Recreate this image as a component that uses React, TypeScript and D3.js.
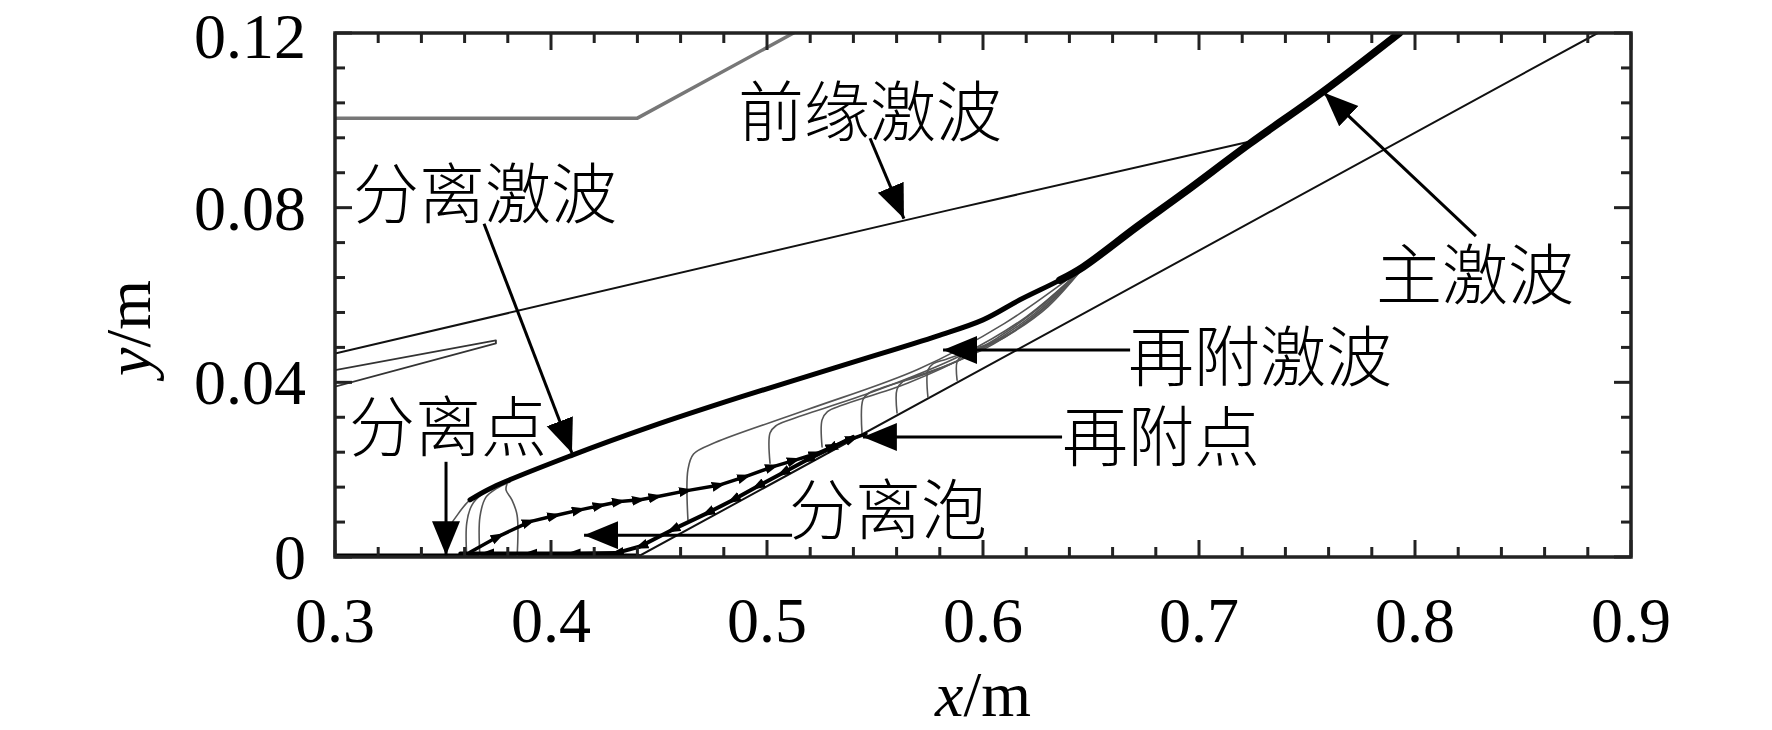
import * as d3 from "d3"

type Pt = [number, number]

// axis ticks
const xMajor = [0.3, 0.4, 0.5, 0.6, 0.7, 0.8, 0.9]
const xTickLabels = ["0.3", "0.4", "0.5", "0.6", "0.7", "0.8", "0.9"]
const yMajor = [0, 0.04, 0.08, 0.12]
const yTickLabels = ["0", "0.04", "0.08", "0.12"]

// geometry (x/m, y/m)
const upperWall: Pt[] = [[0.3, 0.1005], [0.44, 0.1005], [0.5123, 0.12]]
const floorWall: Pt[] = [[0.3, 0], [0.44, 0]]
const rampWall: Pt[] = [[0.44, 0], [0.8846, 0.12]]

// shocks
const leadingShock: Pt[] = [[0.3, 0.0466], [0.5847, 0.0795], [0.7267, 0.0955]]
const sliver: Pt[] = [[0.3, 0.0428], [0.3745, 0.0496], [0.3745, 0.0489], [0.3, 0.039]]
const separationShock: Pt[] = [
  [0.3625, 0.0131], [0.3731, 0.016], [0.4102, 0.0234], [0.4458, 0.0298], [0.4875, 0.0366],
  [0.5384, 0.0444], [0.5787, 0.0506], [0.6, 0.0543], [0.6171, 0.0589], [0.6356, 0.0634], [0.6463, 0.0664],
]
const mainShock: Pt[] = [
  [0.6356, 0.0634], [0.6463, 0.0664], [0.6712, 0.0756], [0.6927, 0.0833],
  [0.7236, 0.0947], [0.7575, 0.1066], [0.7928, 0.12],
]

// compression waves at separation
const compression: Pt[][] = [
  [[0.3519, 0.0062], [0.3556, 0.0089], [0.3625, 0.0131], [0.3731, 0.016]],
  [[0.361, 0], [0.361, 0.0078], [0.3634, 0.0119], [0.3681, 0.0144], [0.3764, 0.0165]],
  [[0.3671, 0], [0.3671, 0.0092], [0.3699, 0.0137], [0.3745, 0.0156], [0.381, 0.0172]],
  [[0.3843, 0], [0.3843, 0.0096], [0.3819, 0.0131], [0.3792, 0.0153], [0.3796, 0.0167]],
]

// reattachment compression fan
const fan: Pt[][] = [
  [[0.4634, 0.0085], [0.4634, 0.02], [0.466, 0.0236], [0.476, 0.0262], [0.5184, 0.0337], [0.57, 0.043], [0.61, 0.0535], [0.6463, 0.0662]],
  [[0.5014, 0.0215], [0.5014, 0.0284], [0.504, 0.03], [0.511, 0.0315], [0.55, 0.038], [0.59, 0.0462], [0.62, 0.055], [0.6463, 0.0662]],
  [[0.5255, 0.0252], [0.5255, 0.0314], [0.528, 0.0333], [0.535, 0.0348], [0.565, 0.0398], [0.595, 0.0467], [0.622, 0.0555], [0.6463, 0.0662]],
  [[0.544, 0.0282], [0.5444, 0.036], [0.547, 0.0375], [0.553, 0.0387], [0.575, 0.0422], [0.6, 0.0478], [0.624, 0.0558], [0.6463, 0.0662]],
  [[0.5602, 0.033], [0.5602, 0.0384], [0.563, 0.0402], [0.569, 0.0414], [0.585, 0.0442], [0.605, 0.0488], [0.626, 0.0562], [0.6463, 0.0662]],
  [[0.5745, 0.0366], [0.5745, 0.0428], [0.577, 0.0443], [0.583, 0.0453], [0.595, 0.0474], [0.61, 0.0505], [0.628, 0.0568], [0.6463, 0.0662]],
  [[0.588, 0.0405], [0.588, 0.0447], [0.5905, 0.0462], [0.596, 0.0472], [0.605, 0.049], [0.615, 0.0518], [0.63, 0.0573], [0.6463, 0.0662]],
]

// streamlines of the separation bubble (vertices carry the flow arrows)
const dividingStreamline: Pt[] = [
  [0.3625, 0.0011], [0.376, 0.0048], [0.3903, 0.0081], [0.402, 0.0095], [0.4134, 0.0108], [0.423, 0.0118],
  [0.4319, 0.0127], [0.4412, 0.0131], [0.4489, 0.0138], [0.463, 0.0152], [0.4782, 0.0165], [0.49, 0.0184],
  [0.5029, 0.0207], [0.513, 0.0222], [0.523, 0.0237], [0.531, 0.0254], [0.54, 0.0272], [0.5458, 0.0282],
]
const reverseStreamline: Pt[] = [
  [0.5398, 0.0275], [0.529, 0.0248], [0.5184, 0.0222], [0.507, 0.0192], [0.4953, 0.0161], [0.484, 0.013],
  [0.4721, 0.01], [0.456, 0.0062], [0.4412, 0.0024], [0.43, 0.0009], [0.41, 0.0008], [0.39, 0.0008],
  [0.37, 0.0008], [0.358, 0.0008],
]

// annotations
const labelText = ["前缘激波", "分离激波", "分离点", "分离泡", "再附点", "再附激波", "主激波"]
const labelPos: Pt[] = [
  [0.5477, 0.103], [0.3694, 0.0843], [0.3523, 0.0309], [0.556, 0.0119],
  [0.6824, 0.0286], [0.7282, 0.0469], [0.8278, 0.0657],
]
const arrowFrom: Pt[] = [
  [0.5477, 0.0959], [0.369, 0.0763], [0.3514, 0.0218], [0.5116, 0.005],
  [0.6366, 0.0275], [0.6681, 0.0474], [0.8282, 0.0735],
]
const arrowTo: Pt[] = [
  [0.5634, 0.0775], [0.4097, 0.0238], [0.3514, 0.0004], [0.4153, 0.005],
  [0.5444, 0.0275], [0.5815, 0.0474], [0.7579, 0.1063],
]

const W = 1772
const H = 730
const x = d3.scaleLinear().domain([0.3, 0.9]).range([335, 1631])
const y = d3.scaleLinear().domain([0, 0.12]).range([557, 33])

const straight = d3.line<Pt>().x((d) => x(d[0])).y((d) => y(d[1]))
const smooth = d3
  .line<Pt>()
  .x((d) => x(d[0]))
  .y((d) => y(d[1]))
  .curve(d3.curveCatmullRom.alpha(0.5))

const SERIF = "'Liberation Serif', 'Times New Roman', serif"
const CJK = "'Noto Sans CJK SC', sans-serif"

export default function App() {
  const [x0, x1] = x.range()
  const [y0, y1] = y.range()
  const xMinor = d3.range(0.3, 0.9001, 0.02).filter((v) => !xMajor.some((m) => Math.abs(m - v) < 1e-6))
  const yMinor = d3.range(0, 0.1201, 0.008).filter((v) => !yMajor.some((m) => Math.abs(m - v) < 1e-6))
  const majorLen = 17
  const minorLen = 10

  return (
    <svg
      width={W}
      height={H}
      viewBox={`0 0 ${W} ${H}`}
      style={{ position: "absolute", left: 0, top: 0, background: "#fff" }}
    >
      <defs>
        <clipPath id="plot">
          <rect x={x0} y={y1} width={x1 - x0} height={y0 - y1} />
        </clipPath>
        <marker id="bigArrow" markerUnits="userSpaceOnUse" markerWidth={40} markerHeight={32}
          refX={34} refY={14} orient="auto">
          <path d="M0,0 L34,14 L0,28 Z" fill="#000" />
        </marker>
        <marker id="flowArrow" markerUnits="userSpaceOnUse" markerWidth={16} markerHeight={12}
          refX={8} refY={5} orient="auto">
          <path d="M0,0 L14,5 L0,10 Z" fill="#000" />
        </marker>
      </defs>

      <g clipPath="url(#plot)" fill="none" strokeLinejoin="round" strokeLinecap="round">
        <path d={straight(upperWall) ?? ""} stroke="#777" strokeWidth={3.5} />
        <path d={straight(floorWall) ?? ""} stroke="#000" strokeWidth={7} />
        <path d={straight(rampWall) ?? ""} stroke="#111" strokeWidth={2} />
        <path d={straight(leadingShock) ?? ""} stroke="#111" strokeWidth={2} />
        <path d={straight(sliver) ?? ""} stroke="#333" strokeWidth={1.8} />
        {compression.map((c, i) => (
          <path key={`c${i}`} d={smooth(c) ?? ""} stroke="#555" strokeWidth={1.6} />
        ))}
        {fan.map((c, i) => (
          <path key={`f${i}`} d={smooth(c) ?? ""} stroke="#555" strokeWidth={1.6} />
        ))}
        <path d={smooth(separationShock) ?? ""} stroke="#000" strokeWidth={5} />
        <path d={smooth(mainShock) ?? ""} stroke="#000" strokeWidth={7.5} />
        <path d={straight(dividingStreamline) ?? ""} stroke="#000" strokeWidth={3.5} markerMid="url(#flowArrow)" />
        <path d={straight(reverseStreamline) ?? ""} stroke="#000" strokeWidth={4} markerMid="url(#flowArrow)" />
      </g>

      {/* frame */}
      <rect x={x0} y={y1} width={x1 - x0} height={y0 - y1} fill="none" stroke="#222" strokeWidth={3.5} />
      <g stroke="#222" strokeWidth={3}>
        {xMajor.map((v) => (
          <g key={`xM${v}`}>
            <line x1={x(v)} x2={x(v)} y1={y0} y2={y0 - majorLen} />
            <line x1={x(v)} x2={x(v)} y1={y1} y2={y1 + majorLen} />
          </g>
        ))}
        {xMinor.map((v) => (
          <g key={`xm${v}`}>
            <line x1={x(v)} x2={x(v)} y1={y0} y2={y0 - minorLen} />
            <line x1={x(v)} x2={x(v)} y1={y1} y2={y1 + minorLen} />
          </g>
        ))}
        {yMajor.map((v) => (
          <g key={`yM${v}`}>
            <line x1={x0} x2={x0 + majorLen} y1={y(v)} y2={y(v)} />
            <line x1={x1} x2={x1 - majorLen} y1={y(v)} y2={y(v)} />
          </g>
        ))}
        {yMinor.map((v) => (
          <g key={`ym${v}`}>
            <line x1={x0} x2={x0 + minorLen} y1={y(v)} y2={y(v)} />
            <line x1={x1} x2={x1 - minorLen} y1={y(v)} y2={y(v)} />
          </g>
        ))}
      </g>

      {/* tick labels */}
      <g fontFamily={SERIF} fontSize={64} fill="#000">
        {xMajor.map((v, i) => (
          <text key={`xl${v}`} x={x(v)} y={642} textAnchor="middle">{xTickLabels[i]}</text>
        ))}
        {yMajor.map((v, i) => (
          <text key={`yl${v}`} x={306} y={Math.max(y(v) + 22, 58)} textAnchor="end">{yTickLabels[i]}</text>
        ))}
        <text x={x(0.6)} y={716} textAnchor="middle">
          <tspan fontStyle="italic">x</tspan>/m
        </text>
        <text transform="translate(150,328) rotate(-90)" textAnchor="middle">
          <tspan fontStyle="italic">y</tspan>/m
        </text>
      </g>

      {/* annotation arrows */}
      <g stroke="#000" strokeWidth={3}>
        {arrowFrom.map((p, i) => (
          <line key={`a${i}`} x1={x(p[0])} y1={y(p[1])} x2={x(arrowTo[i][0])} y2={y(arrowTo[i][1])}
            markerEnd="url(#bigArrow)" />
        ))}
      </g>
      <g fontFamily={CJK} fontSize={66} fontWeight={300} fill="#000">
        {labelText.map((t, i) => (
          <text key={t} x={x(labelPos[i][0])} y={y(labelPos[i][1])} textAnchor="middle" dominantBaseline="central">
            {t}
          </text>
        ))}
      </g>
    </svg>
  )
}
